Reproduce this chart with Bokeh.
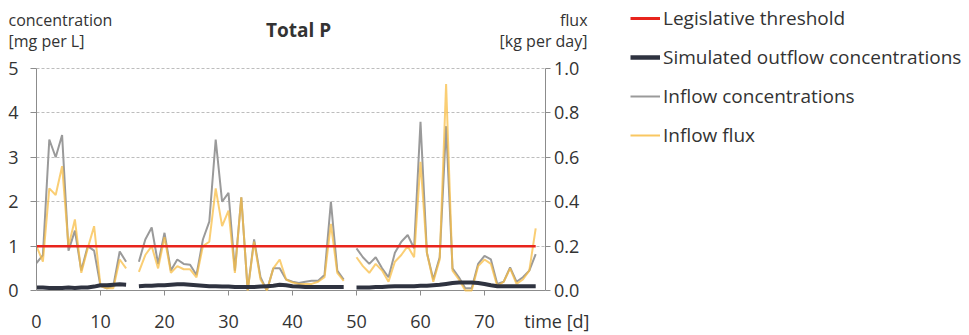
from bokeh.plotting import figure
from bokeh.models import (Range1d, LinearAxis, Label, Legend, LegendItem, FixedTicker,
                          Grid, BoxAnnotation)
from bokeh.layouts import row, column
from bokeh.embed import file_html
from bokeh.resources import INLINE

nan = float("nan")

days = list(range(0, 79))

# Inflow concentrations [mg per L] (gaps at day 15 and 49)
inflow_conc = [0.62, 0.80, 3.40, 3.00, 3.50, 0.90, 1.35, 0.45, 1.00, 0.90,
               0.10, 0.05, 0.10, 0.88, 0.65, nan, 0.65, 1.15, 1.42, 0.60,
               1.30, 0.45, 0.70, 0.60, 0.58, 0.35, 1.15, 1.55, 3.40, 2.00,
               2.20, 0.45, 2.10, 0.00, 1.15, 0.30, 0.00, 0.50, 0.50, 0.25,
               0.20, 0.17, 0.20, 0.22, 0.22, 0.35, 2.00, 0.45, 0.25, nan,
               0.95, 0.75, 0.60, 0.75, 0.50, 0.30, 0.85, 1.10, 1.25, 0.95,
               3.80, 0.85, 0.25, 0.75, 3.70, 0.50, 0.30, 0.05, 0.05, 0.60,
               0.78, 0.70, 0.15, 0.20, 0.52, 0.20, 0.30, 0.45, 0.82]

# Inflow flux [kg per day]
inflow_flux = [0.200, 0.130, 0.460, 0.430, 0.560, 0.200, 0.320, 0.080, 0.190, 0.290,
               0.020, 0.010, 0.010, 0.140, 0.100, nan, 0.084, 0.160, 0.200, 0.100,
               0.240, 0.080, 0.110, 0.096, 0.096, 0.060, 0.200, 0.220, 0.460, 0.290,
               0.360, 0.080, 0.420, 0.000, 0.220, 0.050, 0.000, 0.100, 0.140, 0.050,
               0.036, 0.030, 0.030, 0.030, 0.040, 0.060, 0.300, 0.080, 0.044, nan,
               0.150, 0.110, 0.080, 0.120, 0.090, 0.040, 0.130, 0.160, 0.200, 0.150,
               0.580, 0.170, 0.040, 0.140, 0.930, 0.090, 0.050, 0.000, 0.000, 0.110,
               0.140, 0.120, 0.020, 0.040, 0.100, 0.030, 0.050, 0.090, 0.280]

# Simulated outflow concentrations [mg per L]
outflow_conc = [0.07, 0.07, 0.06, 0.06, 0.06, 0.07, 0.06, 0.07, 0.07, 0.09,
                0.12, 0.12, 0.13, 0.14, 0.13, nan, 0.10, 0.11, 0.11, 0.12,
                0.12, 0.13, 0.14, 0.14, 0.13, 0.12, 0.11, 0.10, 0.10, 0.09,
                0.09, 0.08, 0.08, 0.08, 0.08, 0.09, 0.10, 0.11, 0.13, 0.12,
                0.10, 0.09, 0.08, 0.08, 0.08, 0.08, 0.08, 0.08, 0.08, nan,
                0.07, 0.07, 0.07, 0.08, 0.08, 0.09, 0.10, 0.10, 0.10, 0.10,
                0.11, 0.11, 0.12, 0.13, 0.15, 0.17, 0.18, 0.18, 0.18, 0.17,
                0.15, 0.12, 0.10, 0.10, 0.10, 0.10, 0.10, 0.10, 0.10]

threshold_days = [0, 78]
threshold_conc = [1.0, 1.0]

x_ticks = [0, 10, 20, 30, 40, 50, 60, 70]
x_end = 79.6          # day at which the right (flux) axis stands
y_ticks = [0, 1, 2, 3, 4, 5]
flux_ticks = [0.0, 0.2, 0.4, 0.6, 0.8, 1.0]
time_label_pos = 81.3

FONT = "Open Sans"
TXT = "#333333"
AXC = "#8c8c8c"
C_THR, C_OUT, C_IN, C_FX = "#e8241c", "#2f3340", "#9a9a9a", "#f8bd45"

W, H = 969, 335
LEFT_W = 630
HEAD_H = 52
PX_DAY = 6.4          # pixels per day
PX_UNIT = 44.8        # pixels per mg/L
ZERO_Y = 292          # screen row of the zero line
TICK_PX = 5           # length of the x tick marks
FR_LEFT, FR_RIGHT, FR_TOP, FR_BOTTOM = 36, 592, 56, 303

x_hi = (FR_RIGHT - FR_LEFT) / PX_DAY
y_hi = (ZERO_Y - FR_TOP) / PX_UNIT
y_lo = -(FR_BOTTOM - ZERO_Y) / PX_UNIT

# ---------------- main chart ----------------
p = figure(width=LEFT_W, height=H - HEAD_H,
           min_border_left=FR_LEFT, min_border_right=LEFT_W - FR_RIGHT,
           min_border_top=FR_TOP - HEAD_H, min_border_bottom=H - FR_BOTTOM,
           x_range=Range1d(0, x_hi), y_range=Range1d(y_lo, y_hi),
           output_backend="svg", toolbar_location=None)
p.outline_line_color = None
p.extra_y_ranges = {"flux": Range1d(y_lo / 5, y_hi / 5)}

xax = p.xaxis[0]
xax.ticker = FixedTicker(ticks=x_ticks + [time_label_pos])
xax.major_label_overrides = {time_label_pos: "time [d]"}
xax.axis_line_color = None
xax.major_tick_line_color = None
xax.major_tick_out = 0
xax.major_tick_in = 0
xax.minor_tick_line_color = None
xax.major_label_standoff = 7

yax = p.yaxis[0]
yax.ticker = FixedTicker(ticks=y_ticks)
yax.bounds = (0, 5)
yax.axis_line_color = AXC
yax.major_tick_line_color = AXC
yax.minor_tick_line_color = None
yax.major_tick_in = 0
yax.major_tick_out = 6
yax.major_label_standoff = 12

rax = LinearAxis(y_range_name="flux", ticker=FixedTicker(ticks=flux_ticks),
                 fixed_location=x_end, bounds=(0, 1))
rax.axis_line_color = AXC
rax.major_tick_line_color = AXC
rax.minor_tick_line_color = None
rax.major_tick_in = 0
rax.major_tick_out = 5
rax.major_label_standoff = 3
rax.major_label_overrides = {v: f"{v:.1f}" for v in flux_ticks}
p.add_layout(rax, "right")

for ax in (xax, yax, rax):
    ax.major_label_text_font = FONT
    ax.major_label_text_font_size = "18px"
    ax.major_label_text_color = TXT

p.ygrid.ticker = FixedTicker(ticks=y_ticks[1:])
p.ygrid.grid_line_color = "#bdbdbd"
p.ygrid.grid_line_dash = "3 2"
p.ygrid.grid_line_width = 1
base = Grid(dimension=1, ticker=FixedTicker(ticks=y_ticks[:1]),
            grid_line_color=AXC, grid_line_width=1)
p.add_layout(base)
if "cross_bounds" in Grid.properties():
    p.ygrid.cross_bounds = (0, x_end)
    base.cross_bounds = (0, x_end)
    # short tick marks under the time axis
    p.xgrid.ticker = FixedTicker(ticks=x_ticks)
    p.xgrid.grid_line_color = AXC
    p.xgrid.grid_line_width = 1
    p.xgrid.cross_bounds = (-TICK_PX / PX_UNIT, 0)
else:
    p.xgrid.grid_line_color = None
    p.add_layout(BoxAnnotation(left=x_end, fill_color="white", fill_alpha=1,
                               line_color=None, level="underlay"))

r_in = p.line(days, inflow_conc, line_color=C_IN, line_width=2)
r_fx = p.line(days, inflow_flux, y_range_name="flux", line_color=C_FX,
              line_alpha=0.75, line_width=2)
r_out = p.line(days, outflow_conc, line_color=C_OUT, line_width=4)
r_thr = p.line(threshold_days, threshold_conc, line_color=C_THR, line_width=2.5)

# ---------------- header with titles ----------------
h = figure(width=LEFT_W, height=HEAD_H, x_range=Range1d(0, LEFT_W), y_range=Range1d(0, HEAD_H),
           min_border=0, x_axis_location=None, y_axis_location=None,
           output_backend="svg", toolbar_location=None)
h.outline_line_color = None
h.grid.grid_line_color = None

def lab(fig, x, y, text, align="left", size="16px", style="normal"):
    fig.add_layout(Label(x=x, y=y, text=text, text_align=align, text_baseline="middle",
                         text_font=FONT, text_font_size=size, text_color=TXT,
                         text_font_style=style))

lab(h, 8, 33, "concentration")
lab(h, 8, 12, "[mg per L]")
lab(h, 298, 22.5, "Total P", align="center", size="19px", style="bold")
lab(h, 587, 33, "flux", align="right")
lab(h, 587, 12, "[kg per day]", align="right")

# ---------------- legend panel ----------------
lg = figure(width=W - LEFT_W, height=H, x_range=Range1d(1000, 1001), y_range=Range1d(1000, 1001),
            min_border=0, min_border_top=5, x_axis_location=None, y_axis_location=None,
            output_backend="svg", toolbar_location=None)
lg.outline_line_color = None
lg.grid.grid_line_color = None
l_thr = lg.line(threshold_days, threshold_conc, line_color=C_THR, line_width=3)
l_out = lg.line(days, outflow_conc, line_color=C_OUT, line_width=4.5)
l_in = lg.line(days, inflow_conc, line_color=C_IN, line_width=2)
l_fx = lg.line(days, inflow_flux, line_color=C_FX, line_alpha=0.85, line_width=2)

legend = Legend(items=[
    LegendItem(label="Legislative threshold", renderers=[l_thr]),
    LegendItem(label="Simulated outflow concentrations", renderers=[l_out]),
    LegendItem(label="Inflow concentrations", renderers=[l_in]),
    LegendItem(label="Inflow flux", renderers=[l_fx]),
], location="top_left")
legend.label_text_font = FONT
legend.label_text_font_size = "19px"
legend.label_text_color = TXT
legend.glyph_width = 30
legend.glyph_height = 20
legend.label_height = 20
legend.label_standoff = 3
legend.spacing = 13
legend.padding = 0
legend.margin = 0
legend.border_line_color = None
legend.background_fill_alpha = 0
lg.add_layout(legend)

layout = row(column(row(h), row(p)), lg)
open("out.html", "w").write(file_html(layout, INLINE))
